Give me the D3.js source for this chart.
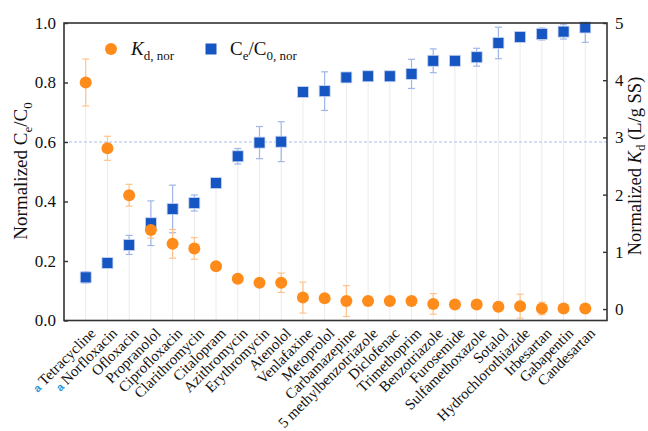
<!DOCTYPE html>
<html>
<head>
<meta charset="utf-8">
<script src="https://cdn.jsdelivr.net/npm/d3@7"></script>
<style>
  body { margin: 0; background: #fff; }
  text { font-family: "Liberation Serif", "Times New Roman", serif; fill: #111; }
</style>
</head>
<body>
<svg id="chart" width="648" height="431"></svg>
<script>
var compounds = ["Tetracycline", "Norfloxacin", "Ofloxacin", "Propranolol", "Ciprofloxacin",
    "Clarithromycin", "Citalopram", "Azithromycin", "Erythromycin", "Atenolol", "Venlafaxine",
    "Metoprolol", "Carbamazepine", "5 methylbenzotriazole", "Diclofenac", "Trimethoprim",
    "Benzotriazole", "Furosemide", "Sulfamethoxazole", "Sotalol", "Hydrochlorothiazide",
    "Irbesartan", "Gabapentin", "Candesartan"];
var marked = ["Tetracycline", "Norfloxacin"];

// Ce/C0, nor (left axis)
var ceValues = [0.145, 0.193, 0.254, 0.327, 0.375, 0.395, 0.462, 0.552, 0.598, 0.601, 0.768,
    0.771, 0.817, 0.821, 0.821, 0.829, 0.873, 0.873, 0.885, 0.933, 0.953, 0.963, 0.971, 0.985];
var ceErrors = [0.019, 0.01, 0.032, 0.075, 0.08, 0.027, 0, 0.026, 0.054, 0.067, 0,
    0.065, 0.01, 0, 0, 0.049, 0.04, 0, 0.03, 0.053, 0.011, 0.02, 0.025, 0.05];

// Kd, nor (right axis)
var kdValues = [3.96, 2.81, 1.99, 1.38, 1.14, 1.06, 0.75, 0.53, 0.46, 0.46, 0.2,
    0.19, 0.14, 0.14, 0.14, 0.14, 0.09, 0.08, 0.08, 0.04, 0.05, 0.01, 0.01, 0.01];
var kdErrors = [0.41, 0.21, 0.19, 0.14, 0.25, 0.19, 0, 0, 0, 0.17, 0.27,
    0, 0.27, 0, 0, 0, 0.18, 0, 0, 0, 0.21, 0.11, 0, 0];

var leftTicks = [0, 0.2, 0.4, 0.6, 0.8, 1.0];
var rightTicks = [0, 1, 2, 3, 4, 5];

var orange = "#ff8c1a", orangeLight = "#ffc38a";
var blue = "#1656c2", blueLight = "#9fb6e8";

var svg = d3.select("#chart");
var m = {left: 64, right: 607, top: 23, bottom: 320.5};

var x = d3.scalePoint().domain(compounds).range([m.left, m.right]).padding(1);
var yL = d3.scaleLinear().domain([0, 1]).range([m.bottom, m.top]);
var yR = d3.scaleLinear().domain([-0.2, 5]).range([m.bottom, m.top]);

var rows = compounds.map(function (c, i) {
    return {name: c, ce: ceValues[i], ceErr: ceErrors[i], kd: kdValues[i], kdErr: kdErrors[i]};
});

// drop lines
svg.append("g").selectAll("line").data(rows).join("line")
    .attr("x1", function (d) { return x(d.name); })
    .attr("x2", function (d) { return x(d.name); })
    .attr("y1", m.bottom)
    .attr("y2", function (d) { return Math.min(yL(d.ce), yR(d.kd)); })
    .attr("stroke", "#ebebeb").attr("stroke-width", 1);

// dashed reference line
svg.append("line")
    .attr("x1", m.left).attr("x2", m.right)
    .attr("y1", yL(0.6)).attr("y2", yL(0.6))
    .attr("stroke", "#a9bdf2").attr("stroke-width", 1).attr("stroke-dasharray", "3,2");

function errorBars(g, yScale, vKey, eKey, color) {
    var d = rows.filter(function (r) { return r[eKey] > 0; });
    var clampY = function (v) { return Math.max(m.top, yScale(v)); };
    g.selectAll("line.v").data(d).join("line").attr("class", "v")
        .attr("x1", function (r) { return x(r.name); })
        .attr("x2", function (r) { return x(r.name); })
        .attr("y1", function (r) { return clampY(r[vKey] - r[eKey]); })
        .attr("y2", function (r) { return clampY(r[vKey] + r[eKey]); })
        .attr("stroke", color).attr("stroke-width", 1.2);
    [-1, 1].forEach(function (s) {
        g.selectAll("line.c" + (s + 1)).data(d).join("line").attr("class", "c" + (s + 1))
            .attr("x1", function (r) { return x(r.name) - 3.5; })
            .attr("x2", function (r) { return x(r.name) + 3.5; })
            .attr("y1", function (r) { return clampY(r[vKey] + s * r[eKey]); })
            .attr("y2", function (r) { return clampY(r[vKey] + s * r[eKey]); })
            .attr("stroke", color).attr("stroke-width", 1.2);
    });
}

errorBars(svg.append("g"), yL, "ce", "ceErr", blueLight);
errorBars(svg.append("g"), yR, "kd", "kdErr", orangeLight);

// points
svg.append("g").selectAll("rect").data(rows).join("rect")
    .attr("x", function (d) { return x(d.name) - 5.5; })
    .attr("y", function (d) { return yL(d.ce) - 5.5; })
    .attr("width", 11).attr("height", 11)
    .attr("fill", blue).attr("stroke", "#c9d6f3").attr("stroke-width", 0.8);

svg.append("g").selectAll("circle").data(rows).join("circle")
    .attr("cx", function (d) { return x(d.name); })
    .attr("cy", function (d) { return yR(d.kd); })
    .attr("r", 6)
    .attr("fill", orange);

// frame
svg.append("rect")
    .attr("x", m.left).attr("y", m.top)
    .attr("width", m.right - m.left).attr("height", m.bottom - m.top)
    .attr("fill", "none").attr("stroke", "#333").attr("stroke-width", 1.6);

// axes
var gl = svg.append("g").attr("transform", "translate(" + m.left + ",0)")
    .call(d3.axisLeft(yL).tickValues(leftTicks).tickFormat(d3.format(".1f")).tickSizeInner(-4).tickSizeOuter(0).tickPadding(8));
var gr = svg.append("g").attr("transform", "translate(" + m.right + ",0)")
    .call(d3.axisRight(yR).tickValues(rightTicks).tickFormat(d3.format("d")).tickSizeInner(-4).tickSizeOuter(0).tickPadding(8));
[gl, gr].forEach(function (g) {
    g.select(".domain").remove();
    g.selectAll(".tick line").attr("stroke", "#333").attr("stroke-width", 1.4);
    g.selectAll(".tick text").attr("font-size", 17).attr("font-family", "Liberation Serif").attr("fill", "#111");
});

// category labels
var lab = svg.append("g").selectAll("text").data(compounds).join("text")
    .attr("transform", function (d) { return "translate(" + (x(d) + 7) + "," + (m.bottom + 10) + ") rotate(-45)"; })
    .attr("text-anchor", "end")
    .attr("dy", "0.35em")
    .attr("font-size", 15);
lab.each(function (d) {
    var t = d3.select(this);
    if (marked.indexOf(d) >= 0) {
        t.append("tspan").attr("fill", "#2a95d8").attr("font-size", 11).attr("font-family", "Liberation Sans").attr("font-weight", "bold").text("a ");
    }
    t.append("tspan").text(d);
});

// axis titles
var tl = svg.append("text")
    .attr("transform", "translate(27,171) rotate(-90)")
    .attr("text-anchor", "middle").attr("font-size", 19);
tl.append("tspan").text("Normalized C");
tl.append("tspan").attr("font-size", 13).attr("dy", 5).text("e");
tl.append("tspan").attr("dy", -5).text("/C");
tl.append("tspan").attr("font-size", 13).attr("dy", 5).text("0");

var tr = svg.append("text")
    .attr("transform", "translate(641,166) rotate(-90)")
    .attr("text-anchor", "middle").attr("font-size", 18.5);
tr.append("tspan").text("Normalized ");
tr.append("tspan").attr("font-style", "italic").text("K");
tr.append("tspan").attr("font-size", 13).attr("dy", 4).text("d");
tr.append("tspan").attr("dy", -4).text(" (L/g SS)");

// legend
var leg = svg.append("g");
leg.append("circle").attr("cx", 111).attr("cy", 49).attr("r", 6).attr("fill", orange);
var lt1 = leg.append("text").attr("x", 131).attr("y", 55).attr("font-size", 19);
lt1.append("tspan").attr("font-style", "italic").text("K");
lt1.append("tspan").attr("font-size", 13).attr("dy", 5).text("d, nor");
leg.append("rect").attr("x", 205.5).attr("y", 43.5).attr("width", 11).attr("height", 11).attr("fill", blue);
var lt2 = leg.append("text").attr("x", 230).attr("y", 55).attr("font-size", 19);
lt2.append("tspan").text("C");
lt2.append("tspan").attr("font-size", 13).attr("dy", 5).text("e");
lt2.append("tspan").attr("dy", -5).text("/C");
lt2.append("tspan").attr("font-size", 13).attr("dy", 5).text("0, nor");
</script>
</body>
</html>
